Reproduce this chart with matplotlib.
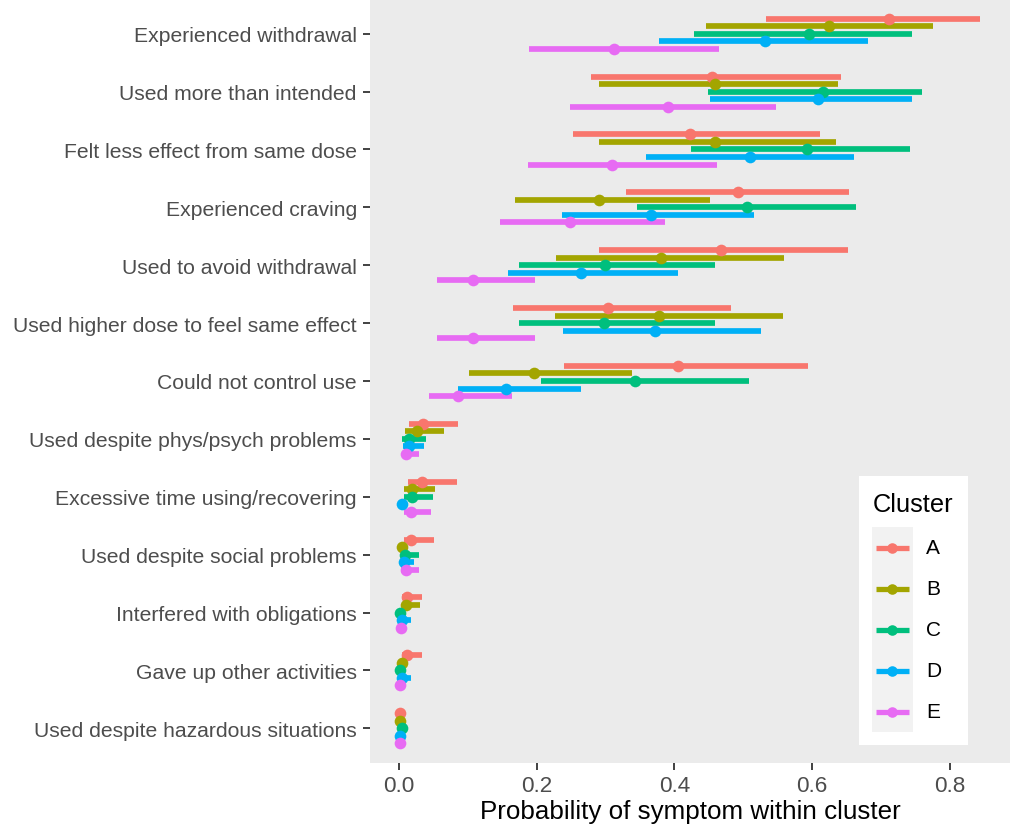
import matplotlib
matplotlib.use("Agg")
import matplotlib.pyplot as plt
from matplotlib.patches import Rectangle
import numpy as np

plt.rcParams['font.family'] = ['Liberation Sans', 'DejaVu Sans']

symptoms = [
    "Experienced withdrawal",
    "Used more than intended",
    "Felt less effect from same dose",
    "Experienced craving",
    "Used to avoid withdrawal",
    "Used higher dose to feel same effect",
    "Could not control use",
    "Used despite phys/psych problems",
    "Excessive time using/recovering",
    "Used despite social problems",
    "Interfered with obligations",
    "Gave up other activities",
    "Used despite hazardous situations",
]

clusters = ["A", "B", "C", "D", "E"]
colors = {"A": "#F8766D", "B": "#A3A500", "C": "#00BF7D", "D": "#00B0F6", "E": "#E76BF3"}

estimate = {
    "A": [0.711, 0.455, 0.422, 0.492, 0.467, 0.303, 0.405, 0.035, 0.034, 0.018, 0.011, 0.011, 0.002],
    "B": [0.624, 0.459, 0.459, 0.290, 0.380, 0.377, 0.196, 0.026, 0.019, 0.005, 0.010, 0.005, 0.001],
    "C": [0.595, 0.615, 0.593, 0.505, 0.299, 0.298, 0.342, 0.014, 0.019, 0.009, 0.001, 0.002, 0.004],
    "D": [0.532, 0.608, 0.510, 0.366, 0.264, 0.372, 0.156, 0.014, 0.004, 0.007, 0.005, 0.005, 0.001],
    "E": [0.312, 0.390, 0.310, 0.249, 0.108, 0.107, 0.086, 0.010, 0.018, 0.010, 0.003, 0.002, 0.001],
}
lower = {
    "A": [0.533, 0.279, 0.252, 0.329, 0.291, 0.165, 0.240, 0.014, 0.013, 0.007, 0.004, 0.004, 0.000],
    "B": [0.445, 0.291, 0.291, 0.168, 0.228, 0.227, 0.101, 0.009, 0.007, 0.001, 0.004, 0.001, 0.000],
    "C": [0.428, 0.449, 0.424, 0.345, 0.175, 0.174, 0.206, 0.005, 0.007, 0.003, 0.000, 0.000, 0.001],
    "D": [0.378, 0.451, 0.358, 0.237, 0.158, 0.238, 0.086, 0.006, 0.001, 0.001, 0.000, 0.000, 0.000],
    "E": [0.189, 0.249, 0.188, 0.147, 0.055, 0.055, 0.043, 0.004, 0.007, 0.003, 0.001, 0.000, 0.000],
}
upper = {
    "A": [0.844, 0.642, 0.611, 0.653, 0.652, 0.482, 0.594, 0.086, 0.085, 0.051, 0.033, 0.034, 0.006],
    "B": [0.775, 0.638, 0.635, 0.452, 0.559, 0.558, 0.339, 0.065, 0.052, 0.010, 0.030, 0.010, 0.004],
    "C": [0.745, 0.759, 0.742, 0.663, 0.459, 0.459, 0.508, 0.040, 0.050, 0.029, 0.005, 0.005, 0.009],
    "D": [0.681, 0.745, 0.661, 0.515, 0.405, 0.526, 0.265, 0.037, 0.006, 0.022, 0.017, 0.017, 0.004],
    "E": [0.465, 0.548, 0.462, 0.386, 0.197, 0.197, 0.164, 0.029, 0.046, 0.029, 0.005, 0.004, 0.003],
}

xticks = [0.0, 0.2, 0.4, 0.6, 0.8]
xlabel = "Probability of symptom within cluster"
legend_title = "Cluster"

W, H = 1012, 828
fig = plt.figure(figsize=(W / 100, H / 100), dpi=100)
fig.patch.set_facecolor("white")

ax = fig.add_axes([370 / W, 64 / H, 640 / W, 764 / H])
ax.set_facecolor("#EBEBEB")
for s in ax.spines.values():
    s.set_visible(False)

pos = np.arange(len(symptoms))
dodge = 0.13
for k, c in enumerate(clusters):
    y = pos + (k - 2) * dodge
    ax.hlines(y, lower[c], upper[c], colors=colors[c], linewidth=4.1,
              capstyle="butt", zorder=2)
    ax.plot(estimate[c], y, "o", color=colors[c], markersize=8.4,
            markeredgewidth=0, zorder=3)

ax.set_ylim(len(symptoms) - 1 + 0.6, -0.6)
ax.set_xlim(-0.042, 0.887)
ax.set_yticks(pos)
ax.set_yticklabels(symptoms)
ax.set_xticks(xticks)
ax.set_xticklabels([f"{t:.1f}" for t in xticks])
ax.tick_params(axis="both", colors="#333333", labelcolor="#4D4D4D",
               length=5, width=1.3)
ax.tick_params(axis="y", pad=4.5, labelsize=15.2)
ax.tick_params(axis="x", pad=3.5, labelsize=16.2)
ax.set_xlabel(xlabel, fontsize=18.7, color="black", labelpad=2)

# Legend drawn in figure pixel coordinates
lg = fig.add_axes([0, 0, 1, 1], zorder=5)
lg.set_xlim(0, W)
lg.set_ylim(H, 0)
lg.axis("off")
lg.patch.set_alpha(0)
lg.add_patch(Rectangle((859, 477), 109, 269, facecolor="white", edgecolor="none"))
lg.text(873, 505, legend_title, fontsize=18.3, va="center", ha="left", color="black")
lg.add_patch(Rectangle((872, 528), 41, 205, facecolor="#F2F2F2", edgecolor="none"))
key_y = [549, 590, 631, 672, 713]
for c, yy in zip(clusters, key_y):
    lg.plot([876, 909], [yy, yy], color=colors[c], linewidth=3.8, solid_capstyle="butt")
    lg.plot([892.5], [yy], "o", color=colors[c], markersize=7.6, markeredgewidth=0)
    lg.text(926, yy, c, fontsize=15, va="center", ha="left", color="black")

fig.savefig("out.png", dpi=100)
